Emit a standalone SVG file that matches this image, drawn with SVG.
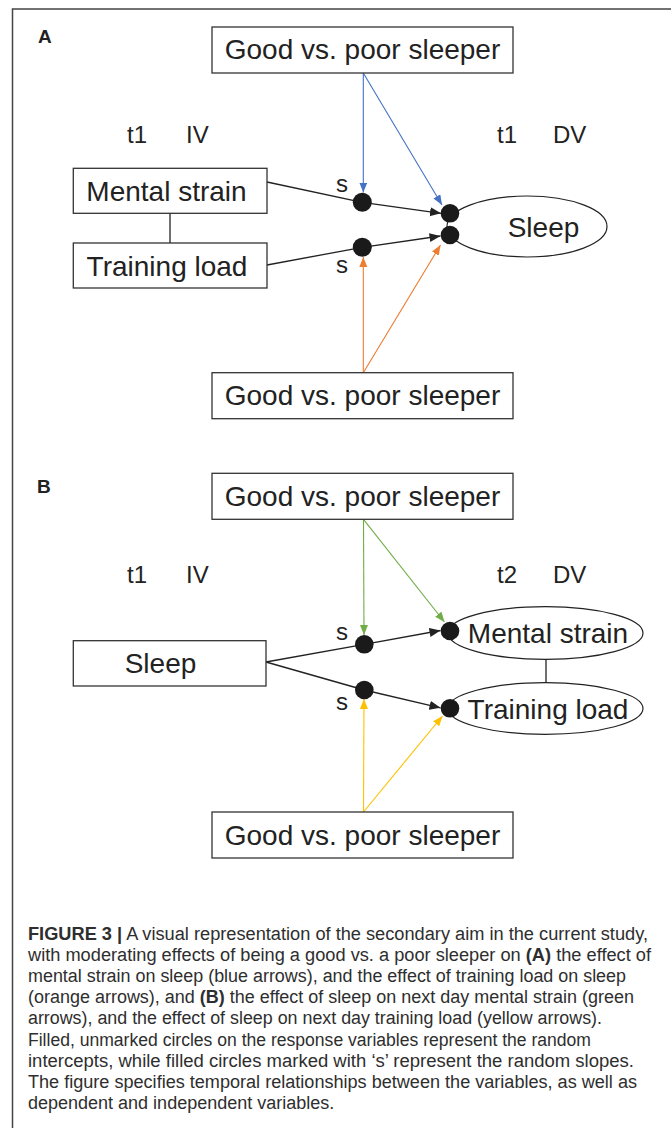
<svg xmlns="http://www.w3.org/2000/svg" width="671" height="1128" viewBox="0 0 671 1128">
<style>
.frame{stroke:#444;stroke-width:1.5;fill:none}
.box{fill:#fff;stroke:#333;stroke-width:1.3}
.ell{fill:#fff;stroke:#222;stroke-width:1.2}
.lbl{font-family:"Liberation Sans",Arial,sans-serif;font-size:28px;fill:#222}
.hdr{font-family:"Liberation Sans",Arial,sans-serif;font-size:24px;fill:#222}
.pnl{font-family:"Liberation Sans",Arial,sans-serif;font-size:19px;font-weight:bold;fill:#222}
.cap{font-family:"Liberation Sans",Arial,sans-serif;font-size:18px;fill:#2e2e2e}
.b{font-weight:bold}
.k{stroke:#222;stroke-width:1.3;fill:none}
.blue{stroke:#4472c4;stroke-width:1.1;fill:none}
.orange{stroke:#ed7d31;stroke-width:1.1;fill:none}
.green{stroke:#70ad47;stroke-width:1.1;fill:none}
.yellow{stroke:#ffc000;stroke-width:1.1;fill:none}
.dot{fill:#1a1a1a}
</style>
<defs>
<marker id="mk" markerUnits="userSpaceOnUse" markerWidth="12" markerHeight="10" refX="11" refY="4.5" orient="auto"><path d="M0,0 L11,4.5 L0,9 z" fill="#222"/></marker>
<marker id="mb" markerUnits="userSpaceOnUse" markerWidth="11" markerHeight="9" refX="10" refY="4" orient="auto"><path d="M0,0 L10,4 L0,8 z" fill="#4472c4"/></marker>
<marker id="mo" markerUnits="userSpaceOnUse" markerWidth="11" markerHeight="9" refX="10" refY="4" orient="auto"><path d="M0,0 L10,4 L0,8 z" fill="#ed7d31"/></marker>
<marker id="mg" markerUnits="userSpaceOnUse" markerWidth="11" markerHeight="9" refX="10" refY="4" orient="auto"><path d="M0,0 L10,4 L0,8 z" fill="#70ad47"/></marker>
<marker id="my" markerUnits="userSpaceOnUse" markerWidth="11" markerHeight="9" refX="10" refY="4" orient="auto"><path d="M0,0 L10,4 L0,8 z" fill="#ffc000"/></marker>
</defs>
<rect x="0" y="0" width="671" height="1128" fill="#fff"/>
<path class="frame" d="M12.5,1128 L12.5,9 L671,9"/>

<!-- Panel A -->
<text class="pnl" x="38" y="43">A</text>
<text class="hdr" x="127" y="143">t1</text>
<text class="hdr" x="186" y="143">IV</text>
<text class="hdr" x="497" y="143">t1</text>
<text class="hdr" x="553" y="143">DV</text>

<g id="connectors-a">
<line class="k" x1="170" y1="213" x2="170" y2="243"/>
<line class="k" x1="267" y1="182" x2="362.3" y2="202.3"/>
<line class="k" x1="362.3" y1="202.3" x2="441" y2="213.3" marker-end="url(#mk)"/>
<line class="k" x1="267" y1="265" x2="362.3" y2="247.3"/>
<line class="k" x1="362.3" y1="247.3" x2="440.5" y2="236" marker-end="url(#mk)"/>
<line class="blue" x1="363.3" y1="73" x2="363.3" y2="192.5" marker-end="url(#mb)"/>
<line class="blue" x1="363.3" y1="73" x2="442" y2="205" marker-end="url(#mb)"/>
<line class="orange" x1="363.3" y1="372.7" x2="363.3" y2="257" marker-end="url(#mo)"/>
<line class="orange" x1="363.3" y1="372.7" x2="440.5" y2="245" marker-end="url(#mo)"/>
</g>

<g id="a-top-moderator"><rect class="box" x="212" y="27" width="301" height="46"/><text class="lbl" x="362.5" y="59" text-anchor="middle">Good vs. poor sleeper</text></g>
<g id="a-mental-strain"><rect class="box" x="73.3" y="168.3" width="193.7" height="45"/><text class="lbl" x="166.5" y="200.5" text-anchor="middle">Mental strain</text></g>
<g id="a-training-load"><rect class="box" x="73.3" y="243" width="193.7" height="45"/><text class="lbl" x="167" y="275.5" text-anchor="middle">Training load</text></g>
<g id="a-sleep"><ellipse class="ell" cx="527" cy="226.5" rx="80" ry="30.5"/><text class="lbl" x="543.5" y="236.5" text-anchor="middle">Sleep</text></g>
<g id="a-bottom-moderator"><rect class="box" x="212" y="372.7" width="301" height="46"/><text class="lbl" x="362.5" y="405" text-anchor="middle">Good vs. poor sleeper</text></g>
<g id="a-slope-1"><circle class="dot" cx="362.3" cy="202.3" r="9.5"/><text class="hdr" x="336" y="191.5">s</text></g>
<g id="a-slope-2"><circle class="dot" cx="362.3" cy="247.3" r="9.5"/><text class="hdr" x="336" y="273">s</text></g>
<g id="a-intercept-1"><circle class="dot" cx="450" cy="213.3" r="9.3"/></g>
<g id="a-intercept-2"><circle class="dot" cx="450" cy="235" r="9.3"/></g>

<!-- Panel B -->
<text class="pnl" x="37" y="493.3">B</text>
<text class="hdr" x="127" y="582.7">t1</text>
<text class="hdr" x="186" y="582.7">IV</text>
<text class="hdr" x="497" y="582.7">t2</text>
<text class="hdr" x="553" y="582.7">DV</text>

<g id="connectors-b">
<line class="k" x1="546" y1="659.3" x2="546" y2="682.7"/>
<line class="k" x1="266" y1="662" x2="364.3" y2="644.3"/>
<line class="k" x1="364.3" y1="644.3" x2="440.5" y2="630.5" marker-end="url(#mk)"/>
<line class="k" x1="266" y1="662" x2="364.3" y2="690"/>
<line class="k" x1="364.3" y1="690" x2="440.5" y2="707.8" marker-end="url(#mk)"/>
<line class="green" x1="363.5" y1="519.3" x2="364" y2="635" marker-end="url(#mg)"/>
<line class="green" x1="363.5" y1="519.3" x2="444.5" y2="622" marker-end="url(#mg)"/>
<line class="yellow" x1="363.5" y1="812" x2="364" y2="699" marker-end="url(#my)"/>
<line class="yellow" x1="363.5" y1="812" x2="442.5" y2="716" marker-end="url(#my)"/>
</g>

<g id="b-top-moderator"><rect class="box" x="212" y="473.3" width="301" height="46"/><text class="lbl" x="362.5" y="506" text-anchor="middle">Good vs. poor sleeper</text></g>
<g id="b-sleep"><rect class="box" x="73.3" y="640.7" width="192.7" height="45.3"/><text class="lbl" x="160.5" y="673.3" text-anchor="middle">Sleep</text></g>
<g id="b-mental-strain"><ellipse class="ell" cx="545.5" cy="633" rx="97.5" ry="26.3"/><text class="lbl" x="548" y="643.3" text-anchor="middle">Mental strain</text></g>
<g id="b-training-load"><ellipse class="ell" cx="545.5" cy="708.5" rx="97.5" ry="25.8"/><text class="lbl" x="548" y="718.5" text-anchor="middle">Training load</text></g>
<g id="b-bottom-moderator"><rect class="box" x="212" y="812" width="301" height="46"/><text class="lbl" x="362.5" y="845" text-anchor="middle">Good vs. poor sleeper</text></g>
<g id="b-slope-1"><circle class="dot" cx="364.3" cy="644.3" r="9.3"/><text class="hdr" x="336" y="640">s</text></g>
<g id="b-slope-2"><circle class="dot" cx="364.3" cy="690" r="9.3"/><text class="hdr" x="336" y="710">s</text></g>
<g id="b-intercept-1"><circle class="dot" cx="450" cy="631" r="9.3"/></g>
<g id="b-intercept-2"><circle class="dot" cx="450" cy="708.3" r="9.3"/></g>

<!-- Caption -->
<g id="caption">
<text class="cap" x="28" y="939.5" textLength="620" lengthAdjust="spacingAndGlyphs"><tspan class="b">FIGURE 3 |</tspan> A visual representation of the secondary aim in the current study,</text>
<text class="cap" x="28" y="960.7" textLength="623" lengthAdjust="spacingAndGlyphs">with moderating effects of being a good vs. a poor sleeper on <tspan class="b">(A)</tspan> the effect of</text>
<text class="cap" x="28" y="981.9" textLength="598" lengthAdjust="spacingAndGlyphs">mental strain on sleep (blue arrows), and the effect of training load on sleep</text>
<text class="cap" x="28" y="1003.1" textLength="606" lengthAdjust="spacingAndGlyphs">(orange arrows), and <tspan class="b">(B)</tspan> the effect of sleep on next day mental strain (green</text>
<text class="cap" x="28" y="1024.3" textLength="574" lengthAdjust="spacingAndGlyphs">arrows), and the effect of sleep on next day training load (yellow arrows).</text>
<text class="cap" x="28" y="1045.5" textLength="563" lengthAdjust="spacingAndGlyphs">Filled, unmarked circles on the response variables represent the random</text>
<text class="cap" x="28" y="1066.7" textLength="606" lengthAdjust="spacingAndGlyphs">intercepts, while filled circles marked with ‘s’ represent the random slopes.</text>
<text class="cap" x="28" y="1087.9" textLength="609" lengthAdjust="spacingAndGlyphs">The figure specifies temporal relationships between the variables, as well as</text>
<text class="cap" x="28" y="1109.1">dependent and independent variables.</text>
</g>
</svg>
